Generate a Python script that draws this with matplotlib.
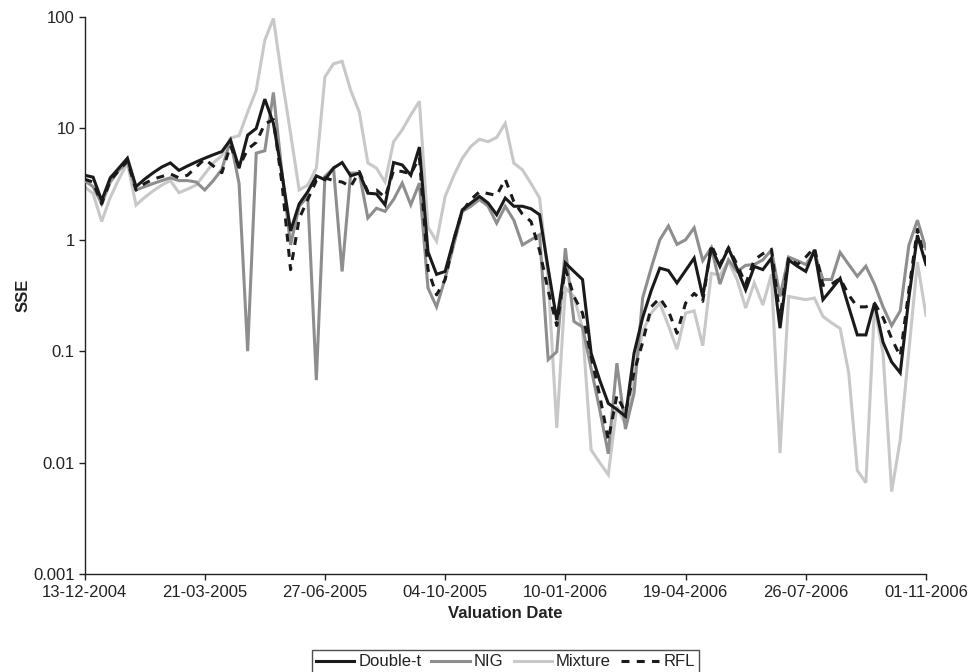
import numpy as np
import matplotlib
matplotlib.use("Agg")
import matplotlib.pyplot as plt

plt.rcParams['font.family'] = ['Liberation Sans', 'DejaVu Sans']

# ---- data (weekly valuation dates, index 0..98) ----
double_t = [3.8, 3.65, 2.25, 3.6, 4.4, 5.4, 3.0, 3.5, 4.0, 4.5,
            4.9, 4.2, 4.6, 5.0, 5.4, 5.8, 6.2, 7.9, 4.4, 8.7,
            10.0, 18.3, 11.1, 3.9, 1.2, 2.1, 2.7, 3.75, 3.46, 4.4,
            4.94, 3.75, 3.97, 2.62, 2.58, 2.06, 4.94, 4.7, 3.8, 6.8,
            0.78, 0.49, 0.52, 1.0, 1.86, 2.14, 2.45, 2.14, 1.68, 2.37,
            2.0, 2.0, 1.9, 1.68, 0.55, 0.19, 0.62, 0.52, 0.44, 0.096,
            0.055, 0.034, 0.03, 0.026, 0.096, 0.2, 0.35, 0.557, 0.53, 0.41,
            0.53, 0.685, 0.31, 0.85, 0.576, 0.84, 0.55, 0.355, 0.576, 0.54,
            0.685, 0.161, 0.66, 0.58, 0.52, 0.81, 0.29, 0.36, 0.45, 0.25,
            0.14, 0.14, 0.27, 0.12, 0.08, 0.064, 0.3, 1.1, 0.6]

nig = [3.4, 3.0, 2.1, 3.3, 4.2, 5.0, 2.8, 3.0, 3.2, 3.4,
       3.6, 3.4, 3.4, 3.3, 2.8, 3.4, 4.3, 7.8, 3.2, 0.1,
       6.0, 6.3, 21.0, 4.0, 0.9, 2.0, 2.45, 0.055, 3.7, 4.4,
       0.52, 3.97, 3.97, 1.57, 1.92, 1.8, 2.3, 3.23, 2.06, 3.23,
       0.37, 0.25, 0.45, 0.9, 1.8, 2.0, 2.3, 2.0, 1.41, 2.0,
       1.5, 0.9, 1.0, 1.11, 0.084, 0.099, 0.84, 0.185, 0.165, 0.07,
       0.03, 0.012, 0.078, 0.02, 0.042, 0.3, 0.56, 1.0, 1.33, 0.91,
       1.0, 1.28, 0.65, 0.85, 0.4, 0.66, 0.52, 0.59, 0.6, 0.66,
       0.81, 0.31, 0.7, 0.65, 0.6, 0.77, 0.44, 0.44, 0.77, 0.6,
       0.47, 0.58, 0.4, 0.25, 0.17, 0.23, 0.89, 1.5, 0.83]

mixture = [3.0, 2.6, 1.46, 2.4, 3.5, 4.9, 2.05, 2.4, 2.75, 3.1,
           3.4, 2.65, 2.85, 3.1, 3.9, 4.9, 5.7, 8.2, 8.6, 14.0,
           22.0, 62.0, 97.0, 28.0, 9.0, 2.8, 3.1, 4.4, 29.0, 38.0,
           40.0, 22.0, 14.0, 4.9, 4.4, 3.3, 7.6, 9.7, 13.2, 17.5,
           1.3, 0.97, 2.45, 3.75, 5.4, 6.9, 8.0, 7.6, 8.3, 11.1,
           4.88, 4.25, 3.2, 2.37, 0.45, 0.0205, 0.37, 0.31, 0.16, 0.013,
           0.01, 0.0078, 0.032, 0.022, 0.06, 0.15, 0.22, 0.27, 0.17, 0.104,
           0.22, 0.23, 0.112, 0.5, 0.48, 0.64, 0.44, 0.244, 0.41, 0.26,
           0.49, 0.0122, 0.31, 0.3, 0.29, 0.3, 0.205, 0.18, 0.16, 0.064,
           0.0085, 0.0066, 0.25, 0.095, 0.0055, 0.016, 0.1, 0.63, 0.21]

rfl = [3.5, 3.3, 2.1, 3.4, 4.2, 5.1, 2.8, 3.2, 3.5, 3.7,
       3.9, 3.6, 3.8, 4.5, 5.3, 4.6, 4.0, 7.0, 4.5, 6.5,
       7.5, 11.0, 12.0, 3.2, 0.54, 1.55, 2.3, 3.4, 3.6, 3.4,
       3.3, 3.0, 4.1, 2.7, 2.8, 2.4, 4.2, 4.1, 3.9, 5.5,
       0.54, 0.32, 0.44, 1.0, 1.8, 2.3, 2.7, 2.6, 2.5, 3.5,
       2.2, 1.7, 1.46, 0.8, 0.35, 0.17, 0.55, 0.31, 0.22, 0.09,
       0.04, 0.016, 0.04, 0.028, 0.065, 0.12, 0.25, 0.3, 0.23, 0.145,
       0.27, 0.33, 0.28, 0.9, 0.6, 0.85, 0.6, 0.4, 0.66, 0.75,
       0.82, 0.2, 0.7, 0.6, 0.7, 0.85, 0.39, 0.4, 0.45, 0.32,
       0.25, 0.25, 0.27, 0.2, 0.13, 0.09, 0.35, 1.24, 0.62]

x_tick_labels = ['13-12-2004', '21-03-2005', '27-06-2005', '04-10-2005',
                 '10-01-2006', '19-04-2006', '26-07-2006', '01-11-2006']
y_ticks = [0.001, 0.01, 0.1, 1, 10, 100]
y_tick_labels = ['0.001', '0.01', '0.1', '1', '10', '100']
series_names = ['Double-t', 'NIG', 'Mixture', 'RFL']

# ---- figure ----
fig = plt.figure(figsize=(9.77, 6.72), dpi=100)
ax = fig.add_axes([84.5 / 977, 1 - 574 / 672, (926 - 84.5) / 977, (574 - 17) / 672])

x = np.arange(len(double_t))
lw = 2.2
l_mix, = ax.plot(x, mixture, color='#c8c8c8', lw=lw, zorder=2, solid_joinstyle='miter')
l_nig, = ax.plot(x, nig, color='#8e8e8e', lw=lw, zorder=3, solid_joinstyle='miter')
l_dt, = ax.plot(x, double_t, color='#1a1a1a', lw=lw, zorder=4, solid_joinstyle='miter')
l_rfl, = ax.plot(x, rfl, color='#1a1a1a', lw=lw, zorder=5, dashes=(2.6, 2.4))

ax.set_yscale('log')
ax.set_ylim(0.001, 100)
ax.set_xlim(0, len(double_t) - 1)

ax.set_yticks(y_ticks)
ax.set_yticklabels(y_tick_labels)
ax.yaxis.set_minor_locator(matplotlib.ticker.NullLocator())
ax.set_xticks(np.linspace(0, len(double_t) - 1, len(x_tick_labels)))
ax.set_xticklabels(x_tick_labels)

for s in ['top', 'right']:
    ax.spines[s].set_visible(False)
for s in ['left', 'bottom']:
    ax.spines[s].set_linewidth(1.0)
    ax.spines[s].set_color('#222222')

ax.tick_params(axis='both', direction='out', length=4, width=1.0,
               colors='#222222', labelsize=12, labelcolor='#222222')
ax.tick_params(axis='x', pad=4)
ax.tick_params(axis='y', pad=3)

ax.set_xlabel('Valuation Date', fontsize=12, fontweight='bold', color='#222222')
ax.set_ylabel('SSE', fontsize=12, fontweight='bold', color='#222222')
ax.xaxis.set_label_coords(0.5, (574 - 606) / 557)
ax.yaxis.set_label_coords((31 - 84.5) / 841.5, 0.5)

leg = ax.legend([l_dt, l_nig, l_mix, l_rfl], series_names, ncol=4,
                loc='center', bbox_to_anchor=(0.5, (574 - 662) / 557),
                frameon=True, fancybox=False, fontsize=12,
                handlelength=2.3, handletextpad=0.25, columnspacing=0.6,
                borderpad=0.25, borderaxespad=0)
leg.get_frame().set_edgecolor('#222222')
leg.get_frame().set_linewidth(1.0)
for t in leg.get_texts():
    t.set_color('#222222')

fig.savefig('out.png', dpi=100)
